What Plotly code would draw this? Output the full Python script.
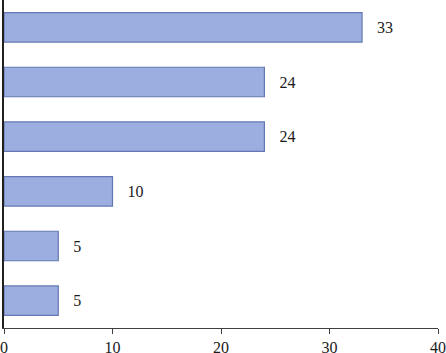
import plotly.graph_objects as go

categories = ["Cat 1", "Cat 2", "Cat 3", "Cat 4", "Cat 5", "Cat 6"]
values = [33, 24, 24, 10, 5, 5]
x_ticks = [0, 10, 20, 30, 40]

fig = go.Figure(go.Bar(
    x=values, y=categories, orientation="h",
    marker=dict(color="#9CAEDF", line=dict(color="#6378B2", width=1.2)),
    text=[str(v) for v in values],
    texttemplate="\u00a0\u00a0\u00a0%{text}",
    textposition="outside",
    textfont=dict(family="Liberation Serif", size=16, color="#1a1a1a"),
    cliponaxis=False,
))
fig.update_layout(
    width=446, height=353,
    margin=dict(l=4, r=8, t=0, b=25, autoexpand=False),
    plot_bgcolor="white", paper_bgcolor="white",
    bargap=0.46, showlegend=False,
    font=dict(family="Liberation Serif", size=16, color="#1a1a1a"),
)
fig.update_xaxes(range=[0, 40], tickvals=x_ticks, showgrid=False, zeroline=False,
                 showline=True, linecolor="#404040", linewidth=1,
                 ticks="outside", ticklen=5, tickcolor="#404040", automargin=False,
                 tickfont=dict(family="Liberation Serif", size=16, color="#1a1a1a"))
fig.update_yaxes(autorange="reversed", showticklabels=False, showgrid=False,
                 showline=True, linecolor="#202020", linewidth=1.5, ticks="",
                 automargin=False)
fig.write_html("out.html", config={"displayModeBar": False},
               post_script="document.body.style.margin='0';")
